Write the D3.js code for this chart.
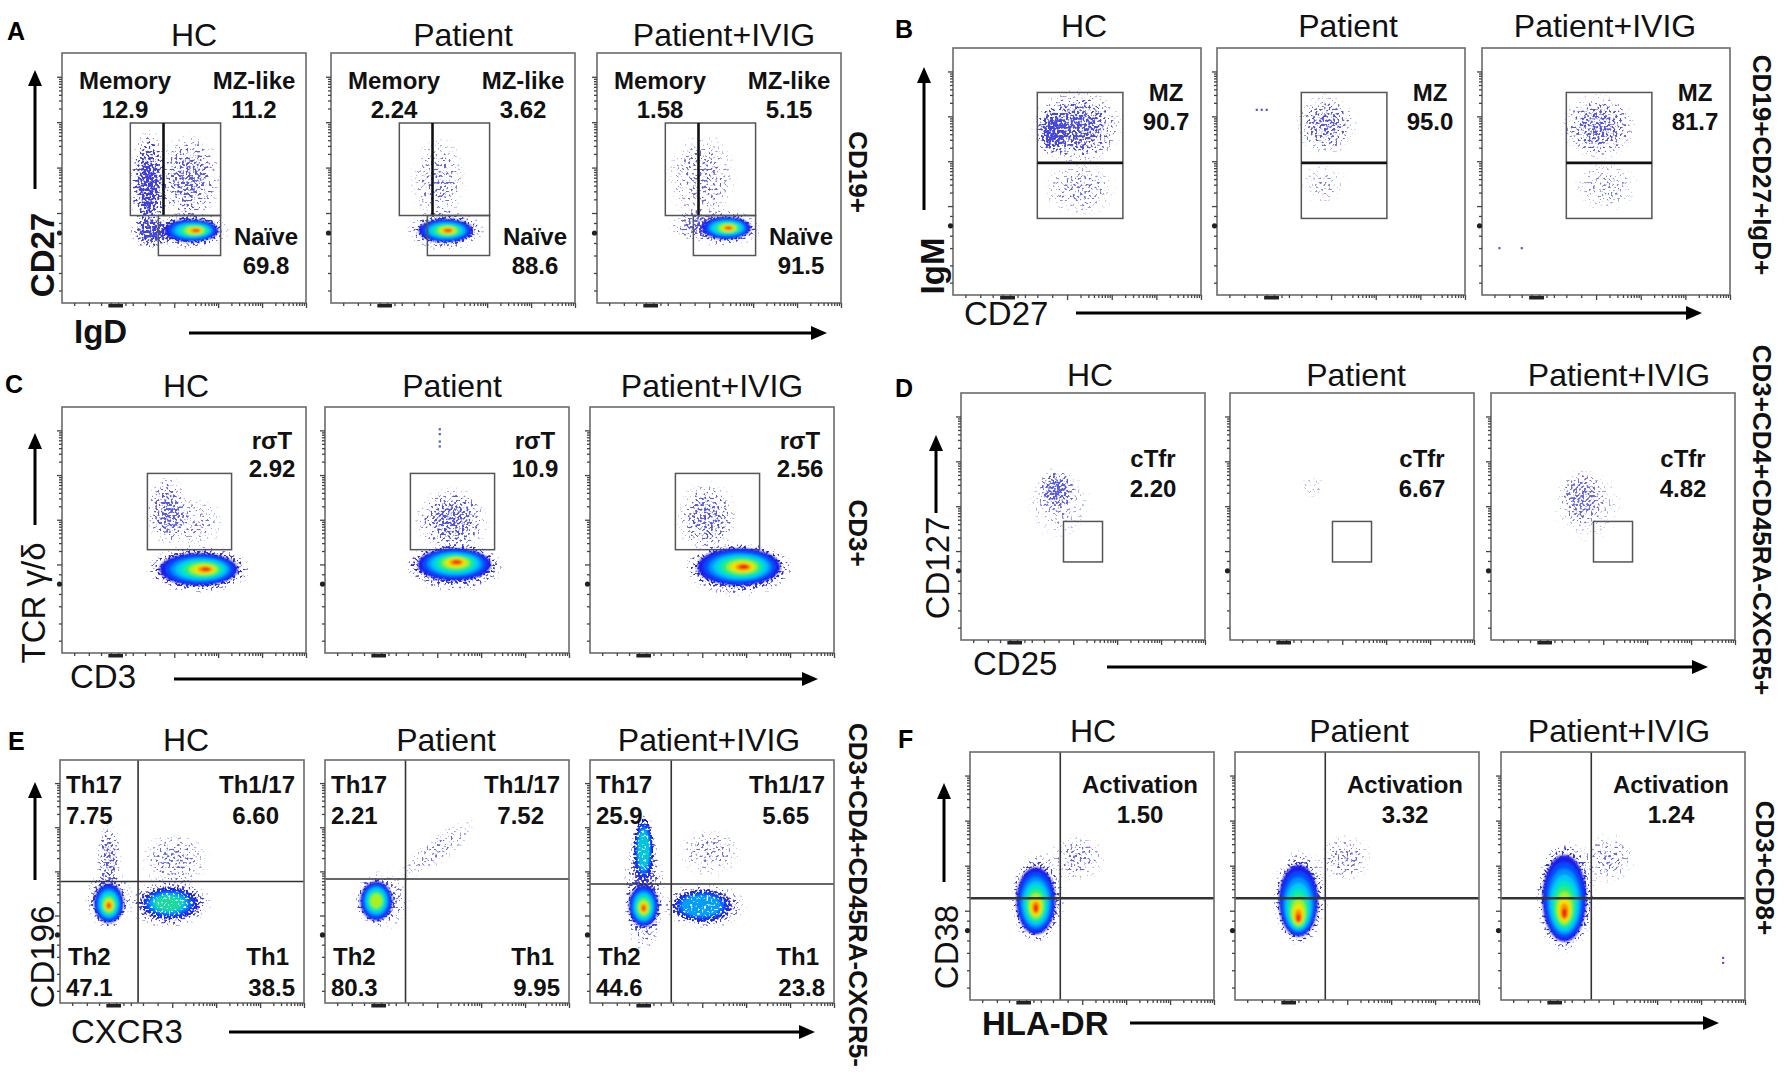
<!DOCTYPE html>
<html lang="en">
<head>
<meta charset="utf-8">
<script src="https://cdn.jsdelivr.net/npm/d3@7"></script>
<style>
  html, body { margin: 0; padding: 0; background: #fff; }
  svg { display: block; font-family: "Liberation Sans", Arial, sans-serif; }
</style>
</head>
<body>
<svg id="fig" width="1792" height="1082"></svg>

<script>
// ---------------- data (axis units: 0-100 % of channel range) ----------------
const groups = ["HC", "Patient", "Patient+IVIG"];
const panelLetters = ["A", "B", "C", "D", "E", "F"];
const yAxisNames = ["CD27", "IgM", "TCR \u03b3/\u03b4", "CD127", "CD196", "CD38"];
const xAxisNames = ["IgD", "CD27", "CD3", "CD25", "CXCR3", "HLA-DR"];
const parentGates = ["CD19+", "CD19+CD27+IgD+", "CD3+", "CD3+CD4+CD45RA-CXCR5+", "CD3+CD4+CD45RA-CXCR5-", "CD3+CD8+"];

// A: B cell subsets
const aNames = ["Memory", "MZ-like", "Na\u00efve"];
const aPct = [[12.9, 11.2, 69.8], [2.24, 3.62, 88.6], [1.58, 5.15, 91.5]];
const aGates = [
  {type: "rect", x0: 28, x1: 65, y0: 35, y1: 72},
  {type: "vline", x: 41.6, y0: 35, y1: 72, heavy: true},
  {type: "rect", x0: 39.5, x1: 65, y0: 19, y1: 35}
];
const aCores = [
  [{x: 53, y: 29, rx: 11, ry: 4.4, hx: 55, hy: 29, peak: 1}],
  [{x: 47, y: 29, rx: 11, ry: 4.6, hx: 48, hy: 29, peak: 1}],
  [{x: 53, y: 30, rx: 10, ry: 4.4, hx: 54, hy: 30, peak: 1}]
];
const aClouds = [
  [{x: 35.5, y: 47, rx: 8, ry: 23, d: 0.9}, {x: 37, y: 28, rx: 10, ry: 7, d: 0.85},
   {x: 52, y: 50, rx: 14, ry: 19, d: 0.62}, {x: 53, y: 29, rx: 16, ry: 8, d: 0.85}],
  [{x: 47, y: 29, rx: 17, ry: 8.5, d: 0.75}, {x: 44, y: 49, rx: 12, ry: 19, d: 0.45}],
  [{x: 52, y: 30, rx: 16, ry: 8, d: 0.7}, {x: 40, y: 31, rx: 11, ry: 7, d: 0.55},
   {x: 43, y: 50, rx: 15, ry: 19, d: 0.45}]
];

// B: marginal zone
const bName = "MZ";
const bPct = [90.7, 95.0, 81.7];
const bGates = [
  {type: "rect", x0: 34, x1: 68.5, y0: 31, y1: 82},
  {type: "hline", y: 53.5, x0: 34, x1: 68.5, heavy: true}
];
const bClouds = [
  [{x: 50, y: 68, rx: 19, ry: 16, d: 0.75}, {x: 40, y: 66, rx: 7, ry: 10, d: 0.85},
   {x: 51, y: 43, rx: 16, ry: 12, d: 0.4}],
  [{x: 44, y: 69, rx: 13, ry: 13, d: 0.6}, {x: 43, y: 45, rx: 10, ry: 9, d: 0.28}],
  [{x: 47, y: 68, rx: 16, ry: 14, d: 0.64}, {x: 50, y: 44, rx: 14, ry: 11, d: 0.34}]
];
const bStray = [[], [[16, 75], [18, 75], [20, 75]], [[7, 19], [16, 19]]];

// C: gamma-delta T cells
const cName = "r\u03c3T";
const cPct = [2.92, 10.9, 2.56];
const cGates = [{type: "rect", x0: 35, x1: 69.5, y0: 42, y1: 73, under: true}];
const cCores = [
  [{x: 56, y: 34, rx: 16, ry: 6.5, hx: 59, hy: 34, peak: 1}],
  [{x: 53, y: 36, rx: 15, ry: 6.5, hx: 54, hy: 37, peak: 0.95}],
  [{x: 61, y: 35, rx: 17, ry: 7.5, hx: 63, hy: 35, peak: 1}]
];
const cClouds = [
  [{x: 56, y: 34, rx: 22, ry: 10.5, d: 0.88}, {x: 43, y: 58, rx: 9, ry: 15, d: 0.62},
   {x: 53, y: 53, rx: 15, ry: 11, d: 0.38}],
  [{x: 53, y: 35, rx: 21, ry: 10.5, d: 0.88}, {x: 52, y: 54, rx: 16, ry: 14, d: 0.66}],
  [{x: 61, y: 34, rx: 23, ry: 11.5, d: 0.88}, {x: 48, y: 55, rx: 13, ry: 16, d: 0.58}]
];
const cStray = [[], [[47, 91], [47, 89], [47, 86], [47, 84]], []];

// D: circulating T follicular regulatory cells
const dName = "cTfr";
const dPct = [2.20, 6.67, 4.82];
const dGates = [{type: "rect", x0: 42, x1: 58, y0: 31.6, y1: 48}];
const dClouds = [
  [{x: 39, y: 61, rx: 8, ry: 9, d: 0.7}, {x: 40, y: 55, rx: 14, ry: 15, d: 0.32}],
  [{x: 34, y: 62, rx: 6, ry: 5, d: 0.22}],
  [{x: 37, y: 58, rx: 10, ry: 12, d: 0.5}, {x: 40, y: 54, rx: 16, ry: 15, d: 0.28}]
];

// E: T helper subsets
const eNames = ["Th17", "Th1/17", "Th2", "Th1"];
const ePct = [[7.75, 6.60, 47.1, 38.5], [2.21, 7.52, 80.3, 9.95], [25.9, 5.65, 44.6, 23.8]];
const eQuads = [[32, 50], [33, 51], [33.3, 49]];
const eCores = [
  [{x: 20, y: 41, rx: 6, ry: 8, hx: 20, hy: 40, peak: 1},
   {x: 45, y: 41, rx: 12, ry: 6.5, hx: 44, hy: 41, peak: 0.55}],
  [{x: 21, y: 42, rx: 6.5, ry: 8, hx: 21, hy: 42, peak: 0.68}],
  [{x: 22, y: 40, rx: 6, ry: 8.5, hx: 22, hy: 39, peak: 0.95},
   {x: 22, y: 63, rx: 4, ry: 13, hx: 22, hy: 63, peak: 0.5},
   {x: 46, y: 40, rx: 12, ry: 6.5, hx: 45, hy: 40, peak: 0.35}]
];
const eClouds = [
  [{x: 20, y: 43, rx: 10, ry: 13, d: 0.7}, {x: 45, y: 41, rx: 18, ry: 11, d: 0.7},
   {x: 20, y: 60, rx: 5.5, ry: 15, d: 0.6}, {x: 47, y: 59, rx: 15, ry: 12, d: 0.45}],
  [{x: 23, y: 42, rx: 12, ry: 13, d: 0.6}, {x: 46, y: 63, rx: 21, ry: 6, rot: 37, d: 0.36}],
  [{x: 22, y: 46, rx: 9, ry: 27, d: 0.75}, {x: 47, y: 40, rx: 18, ry: 10, d: 0.68},
   {x: 49, y: 62, rx: 14, ry: 11, d: 0.38}]
];

// F: activated CD8 T cells
const fName = "Activation";
const fPct = [1.50, 3.32, 1.24];
const fQuads = [[37, 41], [37, 41], [37, 41]];
const fCores = [
  [{x: 27, y: 40, rx: 8, ry: 13.5, hx: 27, hy: 37, peak: 1}],
  [{x: 26, y: 40, rx: 8, ry: 14.5, hx: 26, hy: 33, peak: 1}],
  [{x: 26, y: 41, rx: 9, ry: 17.5, hx: 26, hy: 35, peak: 1}]
];
const fClouds = [
  [{x: 28, y: 42, rx: 12, ry: 19, d: 0.6}, {x: 44, y: 57, rx: 13, ry: 10, d: 0.42}],
  [{x: 27, y: 42, rx: 12, ry: 20, d: 0.6}, {x: 45, y: 57, rx: 12, ry: 10, d: 0.42}],
  [{x: 27, y: 43, rx: 13, ry: 23, d: 0.6}, {x: 44, y: 57, rx: 12, ry: 11, d: 0.4}]
];
const fStray = [[], [], [[91, 15], [91, 17]]];

// ---------------- layout ----------------
const rows = [
  {top: 53, h: 250, w: 244, lefts: [62, 331, 597], titleY: 46, titleX: [194, 463, 724], letter: [7, 40],
   yArrow: [35, 189, 70], yLabel: [42, 255], yBold: true, xLabel: [74, 343], xBold: true,
   xArrow: [189, 827, 333], side: [858, 172]},
  {top: 48, h: 247, w: 248, lefts: [953, 1217, 1482], titleY: 37, titleX: [1084, 1348, 1605], letter: [895, 38],
   yArrow: [924, 210, 67], yLabel: [932, 266], yBold: true, xLabel: [964, 325],
   xArrow: [1076, 1702, 313], side: [1762, 165]},
  {top: 407, h: 246, w: 244, lefts: [62, 325, 590], titleY: 397, titleX: [186, 452, 712], letter: [5, 393],
   yArrow: [35, 525, 433], yLabel: [33, 603], xLabel: [70, 688],
   xArrow: [174, 818, 679], side: [858, 533]},
  {top: 393, h: 247, w: 244, lefts: [961, 1230, 1491], titleY: 386, titleX: [1090, 1356, 1619], letter: [895, 397],
   yArrow: [936, 513, 435], yLabel: [937, 568], xLabel: [973, 675],
   xArrow: [1107, 1708, 667], side: [1762, 520]},
  {top: 760, h: 243, w: 244, lefts: [60, 325, 590], titleY: 751, titleX: [186, 446, 709], letter: [8, 750],
   yArrow: [35, 880, 782], yLabel: [42, 957], xLabel: [71, 1043],
   xArrow: [229, 815, 1032], side: [858, 895]},
  {top: 752, h: 248, w: 244, lefts: [970, 1235, 1501], titleY: 742, titleX: [1093, 1359, 1619], letter: [898, 748],
   yArrow: [944, 882, 783], yLabel: [946, 947], xLabel: [982, 1035], xBold: true,
   xArrow: [1130, 1719, 1023], side: [1765, 868]}
];

// label placement: dx from frame left (or right when right:true), dy from frame top
const labelPos = [
  [{dx: 63, dy: 27}, {dx: 192, dy: 27}, {dx: 204, dy: 183}],
  [{dx: 213, dy: 44}],
  [{dx: 210, dy: 33}],
  [{dx: 192, dy: 65}],
  [{dx: 6, dy: 24, anchor: "start", vdx: 6}, {dx: -9, dy: 24, anchor: "end", right: true, vdx: -25},
   {dx: 8, dy: 196, anchor: "start", vdx: 6}, {dx: -15, dy: 196, anchor: "end", right: true, vdx: -9}],
  [{dx: 170, dy: 32}]
];
const valueGap = [29, 29, 28, 30, 31, 30];

const fmt = d3.format(".3r");
const jet = ["#1c1ce8", "#0050ff", "#0090ff", "#00c8f4", "#00e6c0", "#30ec70", "#a8f020", "#f4e400", "#ff9000", "#f02000"];
const levelScale = [1, 0.87, 0.76, 0.66, 0.56, 0.46, 0.37, 0.28, 0.19, 0.11];
const cloudColor = d3.interpolateRgb("#8c8cf0", "#3636d4");

// per-row stats built from the arrays above
const stats = [
  groups.map((_, i) => aNames.map((n, k) => ({name: n, pct: aPct[i][k]}))),
  groups.map((_, i) => [{name: bName, pct: bPct[i]}]),
  groups.map((_, i) => [{name: cName, pct: cPct[i]}]),
  groups.map((_, i) => [{name: dName, pct: dPct[i]}]),
  groups.map((_, i) => eNames.map((n, k) => ({name: n, pct: ePct[i][k]}))),
  groups.map((_, i) => [{name: fName, pct: fPct[i]}])
];
const gatesByRow = [
  groups.map(() => aGates),
  groups.map(() => bGates),
  groups.map(() => cGates),
  groups.map(() => dGates),
  eQuads.map(q => [{type: "quad", x: q[0], y: q[1]}]),
  fQuads.map(q => [{type: "quad", x: q[0], y: q[1], heavy: true}])
];
const coresByRow = [aCores, [[], [], []], cCores, [[], [], []], eCores, fCores];
const cloudsByRow = [aClouds, bClouds, cClouds, dClouds, eClouds, fClouds];
const strayByRow = [[[], [], []], bStray, cStray, [[], [], []], [[], [], []], fStray];

// ---------------- drawing ----------------
const svg = d3.select("#fig");
const defs = svg.append("defs");

// event "dots": density (alpha) is turned into a speckle pattern with noise
const spk = defs.append("filter").attr("id", "speckle")
    .attr("x", "-5%").attr("y", "-5%").attr("width", "110%").attr("height", "110%")
    .attr("color-interpolation-filters", "sRGB");
spk.append("feTurbulence").attr("type", "fractalNoise").attr("baseFrequency", 0.45)
    .attr("numOctaves", 1).attr("seed", 5).attr("result", "noise");
spk.append("feColorMatrix").attr("in", "noise").attr("type", "matrix")
    .attr("values", "0 0 0 0 0  0 0 0 0 0  0 0 0 0 0  2.6 0 0 0 -0.8").attr("result", "na");
spk.append("feComposite").attr("in", "SourceAlpha").attr("in2", "na").attr("operator", "arithmetic")
    .attr("k1", 0).attr("k2", 1).attr("k3", 1).attr("k4", -1).attr("result", "sum");
spk.append("feColorMatrix").attr("in", "sum").attr("type", "matrix")
    .attr("values", "0 0 0 0 0  0 0 0 0 0  0 0 0 0 0  0 0 0 3.5 0").attr("result", "mask");
spk.append("feColorMatrix").attr("in", "SourceGraphic").attr("type", "matrix")
    .attr("values", "1 0 0 0 0  0 1 0 0 0  0 0 1 0 0  0 0 0 50 0").attr("result", "solid");
spk.append("feComposite").attr("in", "solid").attr("in2", "mask").attr("operator", "in");

defs.append("filter").attr("id", "soft").attr("x", "-20%").attr("y", "-20%").attr("width", "140%").attr("height", "140%")
  .append("feGaussianBlur").attr("stdDeviation", 1.1);

defs.append("marker").attr("id", "head")
    .attr("markerUnits", "userSpaceOnUse").attr("markerWidth", 16).attr("markerHeight", 14)
    .attr("refX", 2).attr("refY", 7).attr("orient", "auto")
  .append("path").attr("d", "M0,0 L16,7 L0,14 Z").attr("fill", "#000");

let gradId = 0;
function cloudGradient(d, color) {
  const id = "cg" + (gradId++);
  const gr = defs.append("radialGradient").attr("id", id);
  const c = color || cloudColor(d);
  [[0, 1], [0.35, 0.88], [0.65, 0.5], [0.85, 0.2], [1, 0]].forEach(([o, f]) =>
    gr.append("stop").attr("offset", o).attr("stop-color", c).attr("stop-opacity", d * f));
  return id;
}

function drawGate(g, gt, x, y) {
  const line = (x1, y1, x2, y2, heavy) => g.append("line")
      .attr("x1", x1).attr("y1", y1).attr("x2", x2).attr("y2", y2)
      .attr("stroke", heavy ? "#111" : "#555").attr("stroke-width", heavy ? 2.6 : 1.5);
  if (gt.type === "rect") {
    g.append("rect").attr("x", x(gt.x0)).attr("y", y(gt.y1))
        .attr("width", x(gt.x1) - x(gt.x0)).attr("height", y(gt.y0) - y(gt.y1))
        .attr("fill", "none").attr("stroke", "#555").attr("stroke-width", 1.5);
  } else if (gt.type === "vline") {
    line(x(gt.x), y(gt.y0), x(gt.x), y(gt.y1), gt.heavy);
  } else if (gt.type === "hline") {
    line(x(gt.x0), y(gt.y), x(gt.x1), y(gt.y), gt.heavy);
  } else if (gt.type === "quad") {
    g.append("line").attr("x1", x(gt.x)).attr("x2", x(gt.x)).attr("y1", y(0)).attr("y2", y(100))
        .attr("stroke", "#333").attr("stroke-width", 1.6);
    g.append("line").attr("x1", x(0)).attr("x2", x(100)).attr("y1", y(gt.y)).attr("y2", y(gt.y))
        .attr("stroke", "#333").attr("stroke-width", gt.heavy ? 2.4 : 1.6);
  }
}

function drawAxes(g, L, T, w, h) {
  const major = [1e2, 1e3, 1e4, 1e5];
  const xl = d3.scaleLog().domain([1e2, 1e5]).range([L + 0.46 * w, L + w]);
  const yl = d3.scaleLog().domain([1e2, 1e5]).range([T + h * 0.64, T + h * 0.095]);
  const minorX = xl.ticks().filter(v => !major.includes(v));
  const minorY = yl.ticks().filter(v => !major.includes(v));
  const clean = a => a.call(s => s.select(".domain").remove())
      .call(s => s.selectAll("line").attr("stroke", "#444").attr("stroke-width", 1.3));
  g.append("g").attr("transform", `translate(0,${T + h})`)
      .call(d3.axisBottom(xl).tickValues(major).tickSize(5).tickFormat("")).call(clean);
  g.append("g").attr("transform", `translate(0,${T + h})`)
      .call(d3.axisBottom(xl).tickValues(minorX).tickSize(3).tickFormat("")).call(clean);
  g.append("g").attr("transform", `translate(${L},0)`)
      .call(d3.axisLeft(yl).tickValues(major).tickSize(5).tickFormat("")).call(clean);
  g.append("g").attr("transform", `translate(${L},0)`)
      .call(d3.axisLeft(yl).tickValues(minorY).tickSize(3).tickFormat("")).call(clean);
  // linear region near zero
  const fx = d3.scaleLinear().domain([0, 1]).range([L, L + w]);
  const fy = d3.scaleLinear().domain([0, 1]).range([T + h, T]);
  const nearZero = [0.05, 0.11, 0.16, 0.2, 0.23, 0.26, 0.29, 0.34, 0.4];
  g.append("g").attr("transform", `translate(0,${T + h})`)
      .call(d3.axisBottom(fx).tickValues(nearZero).tickSize(3).tickFormat("")).call(clean);
  g.append("g").attr("transform", `translate(${L},0)`)
      .call(d3.axisLeft(fy).tickValues([0.05, 0.12, 0.19, 0.24, 0.28, 0.32])
        .tickSize(3).tickFormat("")).call(clean);
  g.append("rect").attr("x", fx(0.19)).attr("y", T + h + 1).attr("width", fx(0.25) - fx(0.19)).attr("height", 3.5)
      .attr("fill", "#222");
  g.append("circle").attr("cx", L - 2.5).attr("cy", fy(0.28)).attr("r", 2.6).attr("fill", "#222");
}

function drawPanel(r, i) {
  const row = rows[r];
  const L = row.lefts[i], T = row.top, w = row.w, h = row.h;
  const x = d3.scaleLinear().domain([0, 100]).range([L, L + w]);
  const y = d3.scaleLinear().domain([0, 100]).range([T + h, T]);
  const sx = v => x(v) - x(0), sy = v => y(0) - y(v);
  const g = svg.append("g");
  const clipId = `clip${r}${i}`;
  defs.append("clipPath").attr("id", clipId)
    .append("rect").attr("x", L).attr("y", T).attr("width", w).attr("height", h);

  const plot = g.append("g").attr("clip-path", `url(#${clipId})`);
  const gates = gatesByRow[r][i];
  gates.filter(d => d.under).forEach(gt => drawGate(plot, gt, x, y));

  const cores = coresByRow[r][i];
  const strong = cores.filter(p => p.peak >= 0.6), weak = cores.filter(p => p.peak < 0.6);
  const levels = (sel, p, opacity) => {
    const n = Math.max(2, Math.round(p.peak * jet.length));
    for (let k = 0; k < n; k++) {
      const t = k / jet.length;
      sel.append("ellipse")
        .attr("cx", x(p.x + (p.hx - p.x) * t * 1.1)).attr("cy", y(p.y + (p.hy - p.y) * t * 1.1))
        .attr("rx", sx(p.rx) * levelScale[k]).attr("ry", sy(p.ry) * levelScale[k])
        .attr("fill", jet[k]).attr("fill-opacity", opacity);
    }
  };

  // sparse event clouds, a dotted blue rim round every core, and grainy low-density cores
  const cl = plot.append("g").attr("filter", "url(#speckle)");
  const ellipse = (sel, c, fill) => sel.append("ellipse")
      .attr("cx", x(c.x)).attr("cy", y(c.y)).attr("rx", sx(c.rx)).attr("ry", sy(c.ry))
      .attr("transform", c.rot ? `rotate(${-c.rot} ${x(c.x)} ${y(c.y)})` : null)
      .attr("fill", fill);
  cloudsByRow[r][i].forEach(c => ellipse(cl, c, `url(#${cloudGradient(c.d)})`));
  cores.forEach(p => ellipse(cl, {x: p.x, y: p.y, rx: p.rx * 1.3, ry: p.ry * 1.3},
      `url(#${cloudGradient(Math.min(1, 0.6 + p.peak * 0.4), "#1a1ad8")})`));
  weak.forEach(p => levels(cl, p, 0.55));

  // dense pseudocolour cores
  const co = plot.append("g").attr("filter", "url(#soft)");
  strong.forEach(p => levels(co, p, 1));

  plot.selectAll(".stray").data(strayByRow[r][i]).join("rect")
      .attr("x", d => x(d[0]) - 1).attr("y", d => y(d[1]) - 1)
      .attr("width", 2.2).attr("height", 2.2).attr("fill", "#5a5ad0");

  gates.filter(d => !d.under).forEach(gt => drawGate(plot, gt, x, y));

  g.append("rect").attr("x", L).attr("y", T).attr("width", w).attr("height", h)
      .attr("fill", "none").attr("stroke", "#6b6b6b").attr("stroke-width", 1.6);
  drawAxes(g, L, T, w, h);

  // gate names and percentages
  stats[r][i].forEach((s, k) => {
    const pos = labelPos[r][k];
    const base = pos.right ? L + w : L;
    const anchor = pos.anchor || "middle";
    g.append("text").attr("x", base + pos.dx).attr("y", T + pos.dy + 8.5)
        .attr("text-anchor", anchor).attr("font-size", 24).attr("font-weight", "bold")
        .attr("fill", "#111").text(s.name);
    g.append("text").attr("x", base + (pos.vdx !== undefined ? pos.vdx : pos.dx))
        .attr("y", T + pos.dy + valueGap[r] + 8.5)
        .attr("text-anchor", anchor).attr("font-size", 24).attr("font-weight", "bold")
        .attr("fill", "#111").text(fmt(s.pct));
  });

  svg.append("text").attr("x", row.titleX[i]).attr("y", row.titleY)
      .attr("text-anchor", "middle").attr("font-size", 32).attr("fill", "#111").text(groups[i]);
}

rows.forEach((row, r) => {
  groups.forEach((_, i) => drawPanel(r, i));

  svg.append("text").attr("x", row.letter[0]).attr("y", row.letter[1])
      .attr("font-size", 25).attr("font-weight", "bold").attr("fill", "#000").text(panelLetters[r]);

  svg.append("line").attr("x1", row.yArrow[0]).attr("x2", row.yArrow[0])
      .attr("y1", row.yArrow[1]).attr("y2", row.yArrow[2] + 14)
      .attr("stroke", "#000").attr("stroke-width", 3).attr("marker-end", "url(#head)");
  svg.append("line").attr("x1", row.xArrow[0]).attr("x2", row.xArrow[1] - 14)
      .attr("y1", row.xArrow[2]).attr("y2", row.xArrow[2])
      .attr("stroke", "#000").attr("stroke-width", 3).attr("marker-end", "url(#head)");

  svg.append("text").attr("transform", `translate(${row.yLabel[0]},${row.yLabel[1]}) rotate(-90)`)
      .attr("text-anchor", "middle").attr("dy", "0.36em").attr("font-size", 33)
      .attr("font-weight", row.yBold ? "bold" : "normal").attr("fill", "#111").text(yAxisNames[r]);
  svg.append("text").attr("x", row.xLabel[0]).attr("y", row.xLabel[1])
      .attr("font-size", 33).attr("font-weight", row.xBold ? "bold" : "normal")
      .attr("fill", "#111").text(xAxisNames[r]);

  svg.append("text").attr("transform", `translate(${row.side[0]},${row.side[1]}) rotate(90)`)
      .attr("text-anchor", "middle").attr("dy", "0.36em").attr("font-size", 26)
      .attr("font-weight", "bold").attr("fill", "#111").text(parentGates[r]);
});
</script>
</body>
</html>
